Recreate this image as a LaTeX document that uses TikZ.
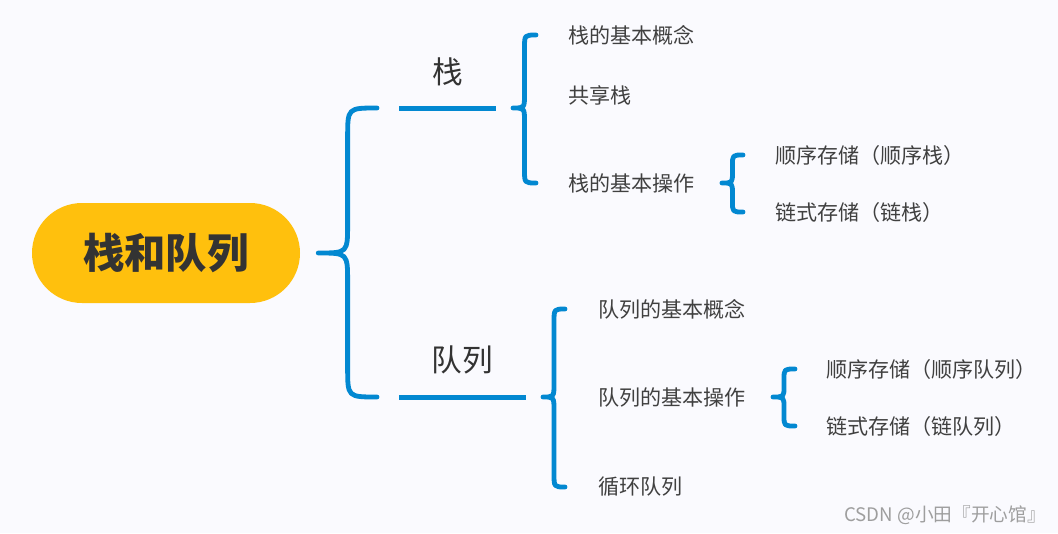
\documentclass[tikz,border=0pt]{standalone}
\usepackage{fontspec}
\setmainfont{Noto Sans CJK SC}
\usetikzlibrary{calc}

\definecolor{lan}{RGB}{2,136,209}
\definecolor{huang}{RGB}{255,192,13}
\definecolor{beijing}{RGB}{250,250,254}
\definecolor{zise}{RGB}{64,64,64}

\tikzset{
  kuo/.style={lan, line width=3.6pt, line cap=round, line join=round},
  xian/.style={lan, line width=3.75pt},
  xiang/.style={anchor=west, inner sep=0pt, text=zise, font=\fontsize{15.8}{18}\selectfont},
  biaoti/.style={inner sep=0pt, text=black!80, font=\fontsize{23}{26}\selectfont},
}

% llave: punta, extremo superior, extremo inferior, radio
\newcommand\kuohao[4]{%
  \draw[kuo] let \p1=(#1), \p2=(#2), \p3=(#3), \p4=($(\p1)!.5!(\p2)$) in
    (\p2) .. controls (\x4,\y2) .. (\x4,\y2-#4)
    -- (\x4,\y1+#4) .. controls (\x4,\y1) .. (\p1)
    .. controls (\x4,\y1) .. (\x4,\y1-#4)
    -- (\x4,\y3+#4) .. controls (\x4,\y3) .. (\p3);}

\begin{document}
\begin{tikzpicture}[x=0.75pt, y=-0.75pt]
    % Fondo
    \fill[beijing] (0,0) rectangle (1058,533);

    % Raiz
    \node[fill=huang, rounded corners=37.5pt, minimum width=201pt, minimum height=75pt,
          text=black!80, font=\fontsize{31}{36}\selectfont\bfseries] (root) at (166,253) {栈和队列};

    % Las dos ramas
    \coordinate (zhanL) at (399,108);
    \coordinate (zhanR) at (496,108);
    \draw[xian] (zhanL) -- (zhanR) node[midway, yshift=27pt, biaoti] (zhan) {栈};
    \coordinate (duiL) at (399,397);
    \coordinate (duiR) at (526,397);
    \draw[xian] (duiL) -- (duiR) node[midway, yshift=27.5pt, biaoti] (dui) {队列};

    % Hojas
    \node[xiang] (gn) at (568,35) {栈的基本概念};
    \node[xiang] (gx) at (568,95) {共享栈};
    \node[xiang] (cz) at (568,183) {栈的基本操作};
    \node[xiang] (sx1) at (775,155) {顺序存储（顺序栈）};
    \node[xiang] (ls1) at (775,212) {链式存储（链栈）};
    \node[xiang] (dgn) at (598,309) {队列的基本概念};
    \node[xiang] (dcz) at (598,397) {队列的基本操作};
    \node[xiang] (xh) at (598,487) {循环队列};
    \node[xiang] (sx2) at (826,369) {顺序存储（顺序队列）};
    \node[xiang] (ls2) at (826,426) {链式存储（链队列）};

    % Llaves
    \coordinate (k0) at ($(root.east)+(18,0)$);
    \coordinate (k0o) at ($(zhanL)+(-22,0)$);
    \coordinate (k0u) at ($(duiL)+(-22,0)$);
    \kuohao{k0}{k0o}{k0u}{22pt}

    \coordinate (k1) at ($(zhanR)+(17,0)$);
    \coordinate (k1o) at ($(gn.west)+(-32,0)$);
    \coordinate (k1u) at ($(cz.west)+(-32,0)$);
    \kuohao{k1}{k1o}{k1u}{10pt}

    \coordinate (k2) at ($(cz.east)+(27,0)$);
    \coordinate (k2o) at ($(sx1.west)+(-32,0)$);
    \coordinate (k2u) at ($(ls1.west)+(-32,0)$);
    \kuohao{k2}{k2o}{k2u}{8pt}

    \coordinate (k3) at ($(duiR)+(17,0)$);
    \coordinate (k3o) at ($(dgn.west)+(-33,0)$);
    \coordinate (k3u) at ($(xh.west)+(-33,0)$);
    \kuohao{k3}{k3o}{k3u}{10pt}

    \coordinate (k4) at ($(dcz.east)+(27,0)$);
    \coordinate (k4o) at ($(sx2.west)+(-31,0)$);
    \coordinate (k4u) at ($(ls2.west)+(-31,0)$);
    \kuohao{k4}{k4o}{k4u}{8pt}

    % Marca de agua
    \node[anchor=east, inner sep=0pt, text=black!38, font=\fontsize{14}{16}\selectfont] (sy) at (1046,515) {CSDN @小田『开心馆』};
\end{tikzpicture}
\end{document}
